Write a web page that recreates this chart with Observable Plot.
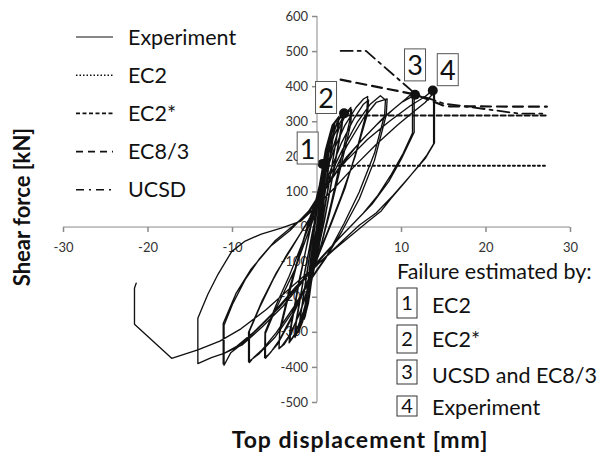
<!DOCTYPE html>
<html><head><meta charset="utf-8">
<script src="https://cdn.jsdelivr.net/npm/d3@7"></script>
<script src="https://cdn.jsdelivr.net/npm/@observablehq/plot@0.6"></script>
<style>
body{margin:0;background:#fff;}
#wrap{position:relative;width:599px;height:453px;font-family:Lato,"Open Sans",sans-serif;}
#wrap svg{position:absolute;left:0;top:0;}
</style></head><body><div id="wrap"></div>
<script>
// ---------- data ----------
const xTicks = [-30, -20, -10, 0, 10, 20, 30];
const yTicks = [-500, -400, -300, -200, -100, 0, 100, 200, 300, 400, 500, 600];

// experimental hysteresis, cycle by cycle [displacement mm, force kN]
const cycle1 = [[0,0],[0.3,70],[0.6,130],[0.55,110],[0.1,10],[-0.3,-70],[-0.6,-130],[-0.55,-110],[-0.1,-10],[0.3,75],[0.62,135],[0.5,100],[0,0],[-0.35,-80],[-0.62,-135],[-0.5,-100],[0,0]];
const cycle2 = [[0,0],[0.5,110],[0.9,180],[1.1,205],[1.0,180],[0.4,60],[-0.2,-40],[-0.7,-140],[-1.1,-205],[-1.0,-180],[-0.4,-60],[0.2,40],[0.7,145],[1.1,200],[0.95,170],[0.3,50],[-0.3,-60],[-0.8,-160],[-1.15,-210],[-1.0,-175],[-0.3,-40],[0.1,20]];
const cycle2b = [[0.1,20],[0.5,120],[1.0,200],[1.5,250],[1.4,225],[0.8,110],[0.2,0],[-0.4,-110],[-0.9,-200],[-1.4,-255],[-1.55,-260],[-1.4,-225],[-0.8,-100],[-0.2,10],[0.4,120],[1.0,210],[1.55,255],[1.45,220],[0.7,90],[0.1,-20],[-0.5,-130],[-1.0,-215],[-1.5,-262],[-1.4,-220],[-0.7,-90],[0.1,20]];
const cycle3 = [[0.1,20],[0.6,140],[1.3,230],[2.0,290],[1.9,260],[1.1,130],[0.4,10],[-0.3,-90],[-0.9,-180],[-1.5,-250],[-2.1,-295],[-2.0,-260],[-1.2,-130],[-0.5,-20],[0.2,80],[0.8,190],[1.5,260],[2.1,300],[2.0,270],[1.2,140],[0.4,0],[-0.4,-110],[-1.0,-200],[-1.7,-270],[-2.2,-300],[-2.05,-270],[-1.1,-120],[-0.4,0]];
const cycle3b = [[-0.4,0],[0.3,120],[1.0,220],[1.8,290],[2.6,315],[2.5,280],[1.6,150],[0.6,20],[-0.3,-100],[-1.1,-200],[-1.9,-280],[-2.6,-315],[-2.5,-280],[-1.6,-150],[-0.6,-20],[0.1,60],[0.9,200],[1.7,280],[2.5,312],[2.4,270],[1.4,120],[0.4,-20],[-0.6,-150],[-1.5,-250],[-2.4,-305],[-2.5,-270],[-1.4,-120],[-0.4,0]];
const cycle4 = [[-0.4,0],[0.4,110],[1.3,220],[2.3,290],[3.0,325],[2.9,290],[2.1,180],[1.1,50],[0.2,-60],[-0.7,-160],[-1.6,-240],[-2.5,-300],[-3.2,-325],[-3.1,-290],[-2.2,-170],[-1.2,-50],[-0.4,50],[0.5,140],[1.4,230],[2.4,300],[3.1,322],[2.95,285],[1.9,150],[0.9,20],[0,-80],[-0.9,-180],[-1.8,-260],[-2.7,-310],[-3.3,-330],[-3.2,-295],[-2.1,-150],[-1.0,-30],[-0.2,60]];
const cycle5 = [[-0.2,60],[0.9,170],[2.0,260],[3.1,315],[4.0,341],[3.9,305],[2.9,200],[1.7,70],[0.5,-50],[-0.7,-150],[-1.8,-230],[-3.0,-300],[-3.9,-335],[-4.5,-347],[-4.4,-300],[-3.4,-200],[-2.2,-90],[-1.0,10],[0.3,90],[1.4,190],[2.6,280],[3.5,325],[4.1,335],[4.0,295],[2.9,180],[1.5,40],[0.3,-70],[-0.9,-160],[-2.1,-250],[-3.3,-310],[-4.2,-340],[-4.5,-345],[-4.4,-290],[-3.2,-170],[-1.9,-60],[-0.8,30]];
const cycle6 = [[-0.8,30],[0.7,130],[2.0,220],[3.3,290],[4.6,340],[5.5,365],[6.0,372],[5.9,330],[4.7,220],[3.3,110],[1.7,10],[0.2,-80],[-1.4,-170],[-2.9,-250],[-4.4,-320],[-5.5,-358],[-6.1,-374],[-6.1,-303],[-5.0,-240],[-3.8,-180],[-2.6,-120],[-1.4,-40],[0,50],[1.4,150],[2.9,240],[4.4,310],[5.5,350],[6.1,362],[6.0,325],[4.5,200],[2.9,90],[1.3,-10],[-0.2,-100],[-1.7,-190],[-3.2,-270],[-4.7,-335],[-5.8,-365],[-6.2,-372],[-6.15,-300],[-4.8,-220],[-3.3,-140],[-1.8,-50],[-0.5,30]];
const cycle7 = [[-0.5,30],[1.2,130],[3.0,220],[4.8,300],[6.3,350],[7.5,374],[8.1,362],[8.0,320],[6.8,210],[5.0,100],[3.2,10],[1.2,-80],[-0.8,-150],[-2.8,-230],[-4.8,-300],[-6.5,-350],[-7.5,-372],[-8.0,-386],[-8.0,-297],[-6.8,-230],[-5.2,-150],[-3.6,-80],[-2.0,-20],[-0.4,40],[1.5,130],[3.5,230],[5.5,310],[7.0,355],[8.3,365],[8.2,320],[6.8,190],[5.0,80],[3.0,-10],[1.0,-90],[-1.0,-160],[-3.0,-245],[-5.0,-315],[-6.8,-360],[-8.1,-384],[-8.1,-300],[-6.5,-210],[-4.8,-130],[-3.0,-60],[-1.0,20]];
const cycle8 = [[-1.0,20],[1.0,110],[3.0,180],[5.0,240],[7.0,290],[9.0,335],[10.5,365],[11.3,382],[11.3,268],[10.2,210],[8.8,150],[7.2,90],[5.5,40],[3.5,-10],[1.5,-60],[0,-100],[-2.0,-160],[-4.5,-230],[-7.0,-290],[-9.0,-335],[-10.2,-358],[-11.0,-394],[-11.0,-280],[-10.0,-220],[-8.5,-150],[-6.8,-90],[-5.0,-40],[-3.0,0],[-1.0,40],[1.2,120],[3.5,200],[5.8,260],[8.0,315],[10.0,355],[11.5,375],[11.5,270],[10.0,195],[8.5,130],[6.5,65],[4.5,15],[2.5,-35],[0.5,-90],[-1.5,-150],[-4.0,-225],[-6.5,-285],[-8.8,-335],[-11.0,-360],[-11.1,-390],[-11.1,-275],[-9.6,-190],[-7.8,-120],[-5.5,-55],[-3.2,-10],[-1.0,45]];
const cycle9 = [[-1.0,45],[1.0,120],[3.5,190],[6.0,250],[8.5,300],[11.0,345],[12.8,372],[13.8,392],[13.8,237],[13.0,205],[12.2,180],[10.5,130],[8.7,80],[7.6,46],[6.0,15],[4.0,-25],[2.0,-65],[0.1,-106],[-2.5,-170],[-5.0,-240],[-7.5,-300],[-9.5,-340],[-11.0,-360],[-12.5,-372],[-14.1,-389],[-14.1,-260],[-13.5,-225],[-12.9,-191],[-11.7,-134],[-10.1,-70],[-8.5,-40],[-6.6,-20],[-4.25,-3],[-1.9,17],[0,60]];
const cycle10 = [[0,60],[2.0,110],[4.5,175],[7.0,235],[9.5,290],[11.5,330],[12.8,355],[13.9,385],[13.9,240],[12.8,195],[11.0,145],[9.0,90],[7.0,40],[5.0,5],[3.0,-40],[0.08,-106],[-3.0,-170],[-6.0,-235],[-9.0,-290],[-11.5,-325],[-14.1,-350],[-17.2,-374],[-21.6,-277],[-21.6,-234],[-21.6,-174],[-21.4,-160]];

// model predictions
const ec2 = [[0.7,175],[27.2,175]];
const ec2star = [[2.8,318],[27.2,318]];
const ec83 = [[2.8,420],[11.6,378],[15.2,344],[27.2,343]];
const ucsd = [[2.8,502],[5.8,502],[11.6,380],[15.0,352],[24.0,323],[27.2,323]];

// failure points
const failureX = [0.67, 3.2, 11.6, 13.7];
const failureF = [180, 324, 377, 389];
const failureLabels = ["1", "2", "3", "4"];

// legend texts
const legendNames = ["Experiment", "EC2", "EC2*", "EC8/3", "UCSD"];
const failureTitle = "Failure estimated by:";
const failureNames = ["EC2", "EC2*", "UCSD and EC8/3", "Experiment"];
const xTitle = "Top displacement [mm]";
const yTitle = "Shear force [kN]";

// ---------- drawing ----------
const experiment = [cycle1, cycle2, cycle2b, cycle3, cycle3b, cycle4, cycle5, cycle6, cycle7, cycle8, cycle9, cycle10].flat();
const failures = failureX.map((x, i) => ({x, f: failureF[i], label: failureLabels[i]}));

const AX = "#8a8a8a";
const tickLeft = {draw(ctx) { ctx.moveTo(-5, 0); ctx.lineTo(0, 0); }};
const tickDown = {draw(ctx) { ctx.moveTo(0, 0); ctx.lineTo(0, 5); }};
const boxDx = [-15, -18, 0, 15];
const boxDy = [-14, -14, -28, -19];

const px = d => d[0], py = d => d[1];
const plot = Plot.plot({
  width: 599, height: 453,
  marginLeft: 63, marginRight: 29, marginTop: 16, marginBottom: 51,
  style: {fontFamily: "Lato, sans-serif", background: "transparent"},
  x: {domain: [xTicks[0], xTicks[xTicks.length - 1]], axis: null},
  y: {domain: [yTicks[0], yTicks[yTicks.length - 1]], axis: null},
  marks: [
    Plot.text(yTicks, {x: 0, y: d => d, text: d => String(d), textAnchor: "end", dx: -9, fontSize: 13, fill: "#333"}),
    Plot.text(xTicks, {x: d => d, y: 0, text: d => String(d), dy: 21, fontSize: 13, fill: "#333"}),
    Plot.ruleX([0], {y1: yTicks[0], y2: yTicks[yTicks.length - 1], stroke: AX}),
    Plot.ruleY([0], {x1: xTicks[0], x2: xTicks[xTicks.length - 1], stroke: AX}),
    Plot.dot(yTicks, {x: 0, y: d => d, symbol: tickLeft, stroke: AX, fill: "none"}),
    Plot.dot(xTicks, {x: d => d, y: 0, symbol: tickDown, stroke: AX, fill: "none"}),
    Plot.line(experiment, {x: px, y: py, stroke: "#111", strokeWidth: 1.35}),
    Plot.line(ec2, {x: px, y: py, stroke: "#111", strokeWidth: 2, strokeDasharray: "2,3"}),
    Plot.line(ec2star, {x: px, y: py, stroke: "#111", strokeWidth: 2, strokeDasharray: "5,3"}),
    Plot.line(ec83, {x: px, y: py, stroke: "#111", strokeWidth: 2.2, strokeDasharray: "10,6"}),
    Plot.line(ucsd, {x: px, y: py, stroke: "#111", strokeWidth: 1.8, strokeDasharray: "12,5,3,5"}),
    Plot.dot(failures, {x: "x", y: "f", r: 5, fill: "#111"}),
    ...failures.map((d, i) => Plot.text([d], {x: "x", y: "f", text: "label", dx: boxDx[i], dy: boxDy[i], fontSize: 27, fill: "#111", className: "fbox"}))
  ]
});
const wrap = document.getElementById("wrap");
wrap.appendChild(plot);

// boxes behind failure labels
const svgRect = plot.getBoundingClientRect();
plot.querySelectorAll("g.fbox").forEach(g => {
  const t = g.querySelector("text");
  const r = t.getBoundingClientRect();
  const cx = r.left + r.width / 2 - svgRect.left, cy = r.top + r.height / 2 - svgRect.top;
  const rect = document.createElementNS("http://www.w3.org/2000/svg", "rect");
  rect.setAttribute("x", cx - 10.5); rect.setAttribute("y", cy - 16);
  rect.setAttribute("width", 21); rect.setAttribute("height", 32);
  rect.setAttribute("fill", "#fff"); rect.setAttribute("stroke", "#555"); rect.setAttribute("stroke-width", 1);
  g.parentNode.insertBefore(rect, g);
});

// overlay: legends and axis titles
const ov = d3.select(wrap).append("svg").attr("width", 599).attr("height", 453)
  .style("font-family", "Lato, sans-serif").style("pointer-events", "none");
const legendDash = [null, "1.5,2", "4,2.5", "7,5", "8,5,2,5"];
const legendWidth = [1, 1.5, 1.8, 1.8, 1.6];
legendNames.forEach((name, i) => {
  const yc = 37 + i * 38.2;
  ov.append("line").attr("x1", 76).attr("x2", 113).attr("y1", yc).attr("y2", yc)
    .attr("stroke", "#111").attr("stroke-width", legendWidth[i]).attr("stroke-dasharray", legendDash[i]);
  ov.append("text").attr("x", 128).attr("y", yc + 7.5).attr("font-size", 21.5).attr("fill", "#111").text(name);
});
ov.append("text").attr("x", 397).attr("y", 279).attr("font-size", 21.5).attr("fill", "#111").text(failureTitle);
const fbY = [288, 325, 360, 396], fbH = [30, 28, 24, 20], fbBase = [313, 347, 383, 415];
failureNames.forEach((name, i) => {
  ov.append("rect").attr("x", 397).attr("y", fbY[i]).attr("width", 20).attr("height", fbH[i])
    .attr("fill", "#fff").attr("stroke", "#333");
  ov.append("text").attr("x", 407).attr("y", fbY[i] + fbH[i] / 2 + 7).attr("text-anchor", "middle")
    .attr("font-size", 20).attr("fill", "#111").text(failureLabels[i]);
  ov.append("text").attr("x", 432).attr("y", fbBase[i]).attr("font-size", 21.5).attr("fill", "#111").text(name);
});
ov.append("text").attr("x", 360).attr("y", 448).attr("text-anchor", "middle").attr("font-size", 23)
  .attr("letter-spacing", "1px").attr("font-weight", "bold").attr("fill", "#111").text(xTitle);
ov.append("text").attr("transform", "translate(30,207) rotate(-90)").attr("text-anchor", "middle")
  .attr("font-size", 22).attr("font-weight", "bold").attr("fill", "#111").text(yTitle);
</script></body></html>
